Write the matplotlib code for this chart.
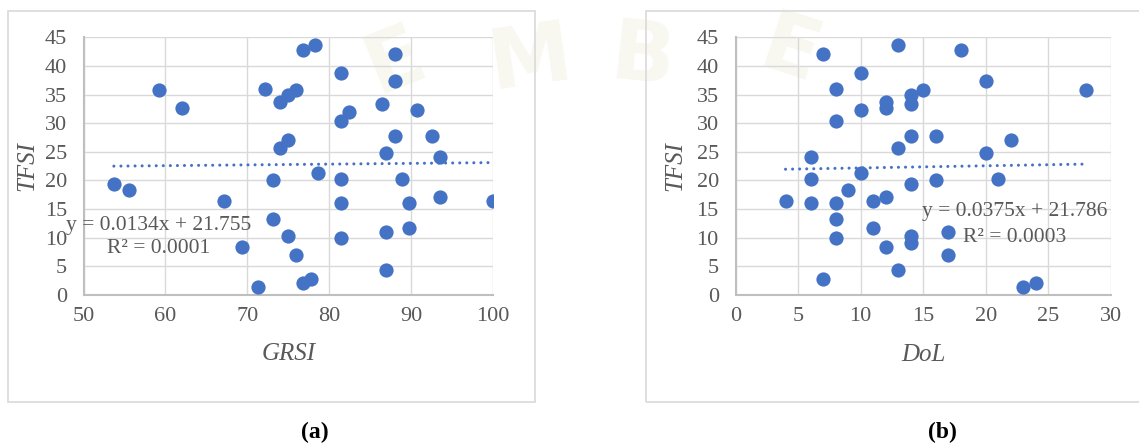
import numpy as np
import matplotlib.pyplot as plt
from matplotlib.patches import Rectangle

plt.rcParams['font.family'] = 'Liberation Serif'

W, H = 1139, 446

# (a) GRSI against TFSI
grsi = [53.7, 55.6, 59.2, 62.0, 67.2, 69.4, 71.3, 72.2, 73.1, 73.1, 74.0, 74.0,
        75.0, 75.0, 75.0, 76.0, 76.0, 76.8, 76.8, 77.8, 78.3, 78.7, 81.5, 81.5,
        81.5, 81.5, 81.5, 82.4, 86.5, 87.0, 87.0, 87.0, 88.0, 88.0, 88.0, 88.9,
        89.8, 89.8, 90.8, 92.6, 93.6, 93.6, 100.0]
tfsi_a = [19.35, 18.3, 35.7, 32.7, 16.3, 8.3, 1.3, 36.0, 20.0, 13.3, 33.7, 25.7,
          35.0, 27.0, 10.3, 35.7, 6.9, 42.7, 2.0, 2.7, 43.7, 21.3, 38.7, 30.3,
          20.3, 16.0, 10.0, 32.0, 33.3, 24.7, 11.0, 4.3, 42.1, 37.4, 27.7, 20.3,
          16.0, 11.7, 32.3, 27.7, 24.0, 17.0, 16.3]
fit_a = (0.0134, 21.755)
r2_a = "0.0001"

# (b) DoL against TFSI
dol = [4, 6, 6, 6, 7, 7, 8, 8, 8, 8, 8, 9, 10, 10, 10, 11, 11, 12, 12, 12, 12,
       13, 13, 13, 14, 14, 14, 14, 14, 14, 15, 16, 16, 17, 17, 18, 20, 20, 21,
       22, 23, 24, 28]
tfsi_b = [16.3, 24.0, 20.3, 16.0, 42.1, 2.7, 36.0, 30.3, 16.0, 13.3, 10.0, 18.3,
          38.7, 32.3, 21.3, 16.3, 11.7, 33.7, 32.7, 17.0, 8.3, 43.7, 25.7, 4.3,
          35.0, 33.3, 27.7, 19.35, 10.3, 9.0, 35.7, 27.7, 20.0, 11.0, 6.9, 42.7,
          37.4, 24.7, 20.3, 27.0, 1.3, 2.0, 35.7]
fit_b = (0.0375, 21.786)
r2_b = "0.0003"

BLUE = '#4472C4'
GREY = '#595959'


def fx(px):
    return px / W


def fy(py):
    return 1 - py / H


fig = plt.figure(figsize=(W / 100, H / 100), dpi=100)
fig.patch.set_facecolor('white')

# faint lettering of the background logo, kept under everything else
for ch, x, y, rot in [('E', 395, 62, 22), ('M', 530, 60, 8),
                      ('B', 642, 58, -6), ('E', 790, 52, -18)]:
    fig.text(fx(x), fy(y), ch, fontsize=60, fontweight='bold', family='DejaVu Sans',
             color='#f8f8f1', rotation=rot, ha='center', va='center', zorder=-5)


def panel(box, rect, x, y, fit, r2, xlim, xticks, xlabel, xlabel_pos, ylabel_pos,
          eq_x, eq_y, caption, caption_x):
    fig.patches.append(Rectangle((fx(box[0]), fy(box[3])), fx(box[2] - box[0]),
                                 (box[3] - box[1]) / H, transform=fig.transFigure,
                                 fill=False, ec='#d9d9d9', lw=1.2, zorder=1))
    ax = fig.add_axes([fx(rect[0]), fy(rect[3]), fx(rect[2] - rect[0]),
                       (rect[3] - rect[1]) / H])
    ax.set_zorder(2)
    ax.set_facecolor('none')
    ax.set_xlim(*xlim)
    ax.set_ylim(0, 45)
    ax.set_xticks(xticks)
    ax.set_yticks(range(0, 46, 5))
    ax.grid(True, color='#d9d9d9', lw=1.0)
    ax.set_axisbelow(True)
    for s in ['top', 'right']:
        ax.spines[s].set_visible(False)
    for s in ['left', 'bottom']:
        ax.spines[s].set_color('#bfbfbf')
        ax.spines[s].set_linewidth(1.5)
    ax.tick_params(length=0, labelsize=16, colors=GREY)
    ax.tick_params(axis='y', pad=12)
    ax.tick_params(axis='x', pad=9)

    ax.scatter(x, y, s=105, color=BLUE, zorder=3, linewidths=0)
    xs = np.array([min(x), max(x)])
    ax.plot(xs, fit[0] * xs + fit[1], color=BLUE, lw=2.2,
            linestyle=(0, (0.01, 2.3)), dash_capstyle='round', zorder=4)

    ax.text(eq_x, eq_y[0], f"y = {fit[0]}x + {fit[1]}", fontsize=15.5, color=GREY,
            ha='center', va='center', zorder=5)
    ax.text(eq_x, eq_y[1], f"R² = {r2}", fontsize=15.5, color=GREY,
            ha='center', va='center', zorder=5)

    fig.text(fx(xlabel_pos[0]), fy(xlabel_pos[1]), xlabel, fontsize=18,
             style='italic', color=GREY, ha='center', va='center')
    fig.text(fx(ylabel_pos[0]), fy(ylabel_pos[1]), 'TFSI', fontsize=18,
             style='italic', color=GREY, ha='center', va='center', rotation=90)
    fig.text(fx(caption_x), fy(432), caption, fontsize=17, fontweight='bold',
             color='black', ha='center', va='center')
    return ax


panel((8, 10.7, 534.5, 401.7), (83.6, 37.3, 492.7, 294.7), grsi, tfsi_a, fit_a, r2_a,
      (50, 100), range(50, 101, 10), 'GRSI', (289, 354), (27, 166),
      59.2, (12.17, 8.15), '(a)', 314.5)
panel((645.6, 10.7, 1160, 401.7), (735.5, 37.3, 1110.7, 294.7), dol, tfsi_b, fit_b, r2_b,
      (0, 30), range(0, 31, 5), 'DoL', (923, 355), (675.5, 166),
      22.3, (14.49, 10.07), '(b)', 942.7)

fig.savefig('out.png', dpi=100)
